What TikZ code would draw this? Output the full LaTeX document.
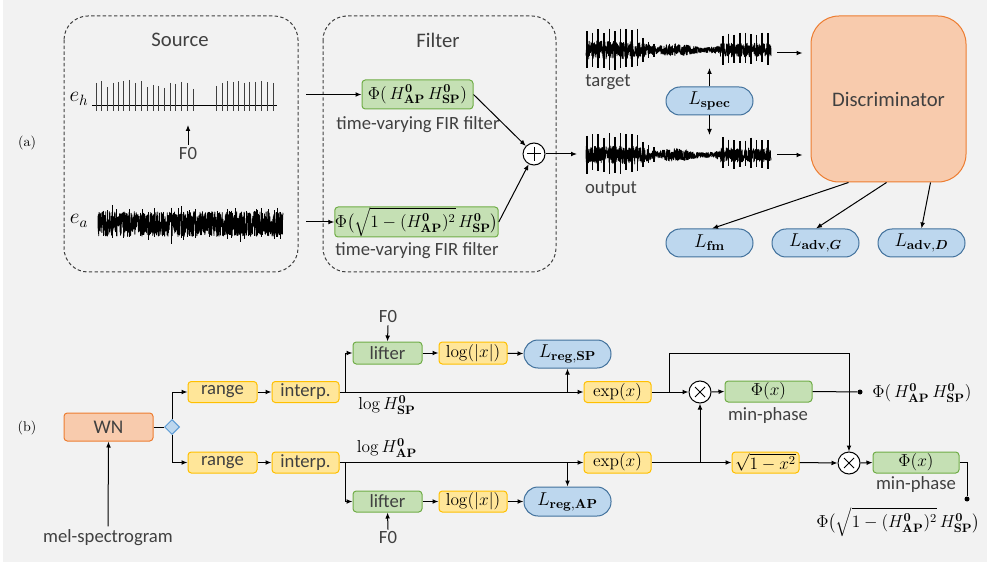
\RequirePackage{fix-cm}
\documentclass[tikz,border=0pt]{standalone}
\usepackage{amsmath,bm}
\usepackage[no-math]{fontspec}
\newfontfamily\labelsans{Carlito}
\usetikzlibrary{arrows.meta,shapes.geometric}

\definecolor{bgc}{HTML}{F2F2F2}
\definecolor{yfill}{HTML}{FFE699}
\definecolor{ydraw}{HTML}{FFC000}
\definecolor{gfill}{HTML}{C5E0B4}
\definecolor{gdraw}{HTML}{70AD47}
\definecolor{bfill}{HTML}{BDD7EE}
\definecolor{bdraw}{HTML}{41719C}
\definecolor{ddraw}{HTML}{5B9BD5}
\definecolor{ofill}{HTML}{F8CBAD}
\definecolor{odraw}{HTML}{ED7D31}
\definecolor{txt}{HTML}{404040}

\newcommand\HAP{H^{\mathbf{0}}_{\mathbf{AP}}}
\newcommand\HSP{H^{\mathbf{0}}_{\mathbf{SP}}}

\tikzset{
  declare function={
    envS(\q)=(\q<636)?9:((\q<660)?(9-0.25*(\q-636)):((\q<720)?(4.5+2*sin(6*(\q-660))):7));
  },
  sans/.style={font=\labelsans\fontsize{14}{17}\selectfont, text=txt, inner sep=0pt},
  sansbig/.style={font=\labelsans\fontsize{15.5}{19}\selectfont, text=txt, inner sep=0pt},
  mlabel/.style={font=\fontsize{13}{16}\selectfont, inner sep=0pt, text=black},
  sz/.style 2 args={minimum width=#1*0.75pt, minimum height=#2*0.75pt},
  blk/.style={draw, line width=0.75pt, inner sep=0pt, rounded corners=2.5pt},
  ybox/.style={blk, fill=yfill, draw=ydraw, sans},
  gbox/.style={blk, fill=gfill, draw=gdraw, sans},
  pill/.style={blk, fill=bfill, draw=bdraw, rounded corners=10.5pt, mlabel, font=\fontsize{14}{17}\selectfont},
  obox/.style={blk, fill=ofill, draw=odraw, sans},
  opnode/.style={circle, draw, fill=white, line width=0.75pt, minimum size=22*0.75pt, inner sep=0pt},
  arr/.style={line width=0.75pt, -{Latex[length=4.5pt,width=3.6pt]}},
  conn/.style={line width=0.75pt},
  dashbox/.style={draw=txt, line width=0.75pt, dash pattern=on 2.5pt off 1.8pt, rounded corners=18pt},
  wave/.style={line width=0.6pt, line join=round},
  spike/.style={line width=1.1pt},
  pulse/.style={line width=0.6pt, draw=txt},
  dot/.style={circle, fill, inner sep=0pt, minimum size=5*0.75pt},
  tag/.style={font=\fontsize{10.5}{12}\selectfont, inner sep=0pt},
  exlabel/.style={font=\fontsize{16}{18}\selectfont, inner sep=0pt},
}

% speech-like waveform between x=586 and x=771 around the centre line #1
\newcommand\speechwave[1]{%
  \draw[wave] plot[domain=586:771, samples=950, variable=\q] (\q, {#1+envS(\q)*rand});
  \foreach \k in {0,...,9}{
    \pgfmathsetmacro\sx{587+5.6*\k}
    \draw[spike] (\sx,{#1-17-5*rnd}) -- (\sx,{#1+14+6*rnd});
  }
  \foreach \k/\a in {0/11,1/8,2/6}{
    \pgfmathsetmacro\sx{643+5.6*\k}
    \draw[spike] (\sx,{#1-\a-3*rnd}) -- (\sx,{#1+\a+2*rnd});
  }
  \foreach \k in {0,...,8}{
    \pgfmathsetmacro\sx{723+5.6*\k}
    \draw[spike] (\sx,{#1-14-4*rnd}) -- (\sx,{#1+11+4*rnd});
  }
}

\begin{document}
\begin{tikzpicture}[x=0.75pt,y=-0.75pt]
\useasboundingbox (0,0) rectangle (987,566);
\fill[bgc] (3,0) rectangle (987,562);
\pgfmathsetseed{2718}

% ================= (a) source-filter model and training =================
\node[tag] (tagA) at (27,143) {(a)};

\draw[dashbox] (64,16) rectangle (298,272);
\draw[dashbox] (323,16) rectangle (556,272);
\node[sansbig] (srcT) at (180,40) {Source};
\node[sansbig] (filT) at (438,40) {Filter};

% pulse-train excitation
\node[exlabel] (ehL) at (79,99) {$e_h$};
\draw[conn] (92,106) -- (277,106);
\foreach \sx/\st in {96/83,101/81,107/87,113/83,118/82,123/81,129/80,135/83,141/81,147/87,153/85,158/86,164/88,170/83,175/84,181/82,187/83,193/89,
                     216/86,222/83,227/81,233/82,238/81,244/83,249/82,255/82,261/81,267/82,273/83}
  \draw[pulse] (\sx,\st) -- (\sx,111.5);
\node[sans] (f0a) at (188,154) {F0};
\coordinate (f0tip) at (188,125);
\draw[arr] ([yshift=2pt]f0a.north) -- (f0tip);

% noise excitation
\node[exlabel] (eaL) at (79,221) {$e_a$};
\draw[wave] plot[domain=98:283, samples=1000, variable=\q] (\q, {224+12.5*rand});
\foreach \k in {1,...,50}{
  \pgfmathsetmacro\sx{99+183*rnd}
  \pgfmathsetmacro\sa{224-11-9*rnd*rnd}
  \pgfmathsetmacro\sb{224+11+10*rnd*rnd}
  \draw[line width=0.6pt] (\sx,\sa) -- (\sx,\sb);
}
\coordinate (ehout) at (306,94.5);
\coordinate (eaout) at (306,222);

% filters
\node[gbox, mlabel, sz={111}{29}] (fa) at (417.5,94.5) {$\Phi(\,\HAP\,\HSP)$};
\node[sans] (fat) at (418,125) {time-varying FIR filter};
\node[gbox, mlabel, sz={159}{30}] (fb) at (416.5,222) {$\Phi\bigl(\sqrt{1-(\HAP)^2}\,\HSP\bigr)$};
\node[sans] (fbt) at (417,251) {time-varying FIR filter};
\draw[arr] (ehout) -- (fa.west);
\draw[arr] (eaout) -- (fb.west);
\node[opnode] (plus) at (534,154) {};
\draw[conn] (plus.center) +(-7,0) -- +(7,0) (plus.center) +(0,-7) -- +(0,7);
\draw[arr] (fa.east) -- (plus);
\draw[arr] (fb.east) -- (plus);
\coordinate (outin) at (577,154);
\draw[arr] (plus.east) -- (outin);

% target and generated waveforms
\speechwave{50}
\speechwave{155}
\node[sans] (tgtL) at (608,82) {target};
\node[sans] (outL) at (611,189) {output};

\node[pill, sz={87}{28}] (lspec) at (709.5,101) {$L_{\mathbf{spec}}$};
\coordinate (tgtB) at (709.5,68);
\coordinate (outT) at (709.5,135);
\draw[arr] (lspec.north) -- (tgtB);
\draw[arr] (lspec.south) -- (outT);

% discriminator and adversarial losses
\node[obox, sansbig, rounded corners=21pt, sz={155}{166}] (disc) at (888.5,99) {Discriminator};
\coordinate (tgtR) at (777,53);
\coordinate (outR) at (777,155);
\draw[arr] (tgtR) -- ([xshift=-6pt]disc.west |- tgtR);
\draw[arr] (outR) -- ([xshift=-6pt]disc.west |- outR);

\node[pill, sz={87}{28}] (lfm) at (709.5,243) {$L_{\mathbf{fm}}$};
\node[pill, sz={87}{28}] (lag) at (815.5,243) {$L_{\mathbf{adv},\boldsymbol{G}}$};
\node[pill, sz={87}{28}] (lad) at (921.5,243) {$L_{\mathbf{adv},\boldsymbol{D}}$};
\draw[arr] ([xshift=28.5pt]disc.south west) -- ([xshift=1.9pt]lfm.north);
\draw[arr] ([xshift=57pt]disc.south west) -- ([xshift=0.4pt]lag.north);
\draw[arr] ([xshift=90pt]disc.south west) -- (lad.north);

% ================= (b) filter estimation =================
\node[tag] (tagB) at (27,428) {(b)};

\node[obox, sz={89}{28}, font=\labelsans\fontsize{14.5}{17}\selectfont] (wn) at (108.5,427) {WN};
\node[sans] (mel) at (108,538) {mel-spectrogram};
\draw[arr] ([yshift=2.5pt]mel.north) -- (wn.south);

\node[diamond, draw=ddraw, fill=bfill, line width=0.75pt, minimum size=15*0.75pt, inner sep=0pt] (dia) at (172,427) {};
\draw[conn] (wn.east) -- (dia.west);

\node[ybox, sz={69}{21}] (r1) at (222.5,392) {range};
\node[ybox, sz={69}{21}] (r2) at (222.5,462.5) {range};
\draw[arr] (dia.north) |- (r1.west);
\draw[arr] (dia.south) |- (r2.west);
\node[ybox, sz={67}{21}] (i1) at (305.5,392) {interp.};
\node[ybox, sz={67}{21}] (i2) at (305.5,462.5) {interp.};
\draw[arr] (r1) -- (i1);
\draw[arr] (r2) -- (i2);

% spectral envelope branch
\node[ybox, mlabel, sz={67}{21}] (e1) at (617.5,392) {$\exp(x)$};
\draw[arr] (i1.east) -- (e1.west);
\coordinate (b1) at ([xshift=4.5pt]i1.east);
\node[gbox, sz={69}{22}] (lf1) at (387.5,353) {lifter};
\draw[arr] (b1) |- (lf1.west);
\node[sans] (f01) at (388,317) {F0};
\draw[arr] ([yshift=-1.5pt]f01.south) -- (lf1.north);
\node[ybox, mlabel, sz={68}{22}] (lg1) at (473,353) {$\log(|x|)$};
\draw[arr] (lf1) -- (lg1);
\node[pill, sz={87}{28}] (lsp) at (567.5,354) {$L_{\mathbf{reg,SP}}$};
\draw[arr] (lg1) -- (lsp);
\draw[arr] (lsp.south |- i1.east) -- (lsp.south);
\node[mlabel] (lhsp) at (387,405) {$\log\HSP$};

% aperiodicity branch
\node[ybox, mlabel, sz={67}{21}] (e2) at (617.5,462.5) {$\exp(x)$};
\draw[arr] (i2.east) -- (e2.west);
\coordinate (b2) at ([xshift=4.5pt]i2.east);
\node[gbox, sz={69}{21}] (lf2) at (387.5,501.5) {lifter};
\draw[arr] (b2) |- (lf2.west);
\node[sans] (f02) at (388,538) {F0};
\draw[arr] ([yshift=1.5pt]f02.north) -- (lf2.south);
\node[ybox, mlabel, sz={68}{21}] (lg2) at (473,501.5) {$\log(|x|)$};
\draw[arr] (lf2) -- (lg2);
\node[pill, sz={87}{29}] (lap) at (567.5,501.5) {$L_{\mathbf{reg,AP}}$};
\draw[arr] (lg2) -- (lap);
\draw[arr] (lap.north |- i2.east) -- (lap.north);
\node[mlabel] (lhap) at (387,448) {$\log\HAP$};

% products and minimum-phase responses
\node[opnode] (t1) at (700,392) {};
\node[opnode] (t2) at (849,463) {};
\draw[conn] (t1.center) +(-5,-5) -- +(5,5) (t1.center) +(-5,5) -- +(5,-5);
\draw[conn] (t2.center) +(-5,-5) -- +(5,5) (t2.center) +(-5,5) -- +(5,-5);
\draw[arr] (e1.east) -- (t1.west);
\coordinate (b3) at ([xshift=13.5pt]e1.east);
\coordinate (b3top) at ([xshift=13.5pt,yshift=29.25pt]e1.east);
\draw[arr] (b3) -- (b3top) -| (t2.north);

\node[gbox, mlabel, sz={87}{21}] (p1) at (768.5,391.5) {$\Phi(x)$};
\node[sans] (mp1) at (768,416) {min-phase};
\draw[arr] (t1.east) -- (p1.west);
\node[dot] (d1) at (860,392) {};
\draw[conn] (p1.east) -- (d1);
\node[mlabel, anchor=west] (o1) at (872,393) {$\Phi(\,\HAP\,\HSP)$};

\node[ybox, mlabel, sz={67}{21}] (sq) at (765.5,462.5) {$\sqrt{1-x^2}$};
\draw[arr] (e2.east) -- (sq.west);
\draw[arr] (t1.south |- e2.east) -- (t1.south);
\draw[arr] (sq.east) -- (t2.west);

\node[gbox, mlabel, sz={86}{21}] (p2) at (916,462.5) {$\Phi(x)$};
\node[sans] (mp2) at (916,485) {min-phase};
\draw[arr] (t2.east) -- (p2.west);
\node[dot] (d2) at (967,499) {};
\draw[conn] (p2.east) -| (d2);
\node[mlabel] (o2) at (898,522) {$\Phi\bigl(\sqrt{1-(\HAP)^2}\,\HSP\bigr)$};
\end{tikzpicture}
\end{document}
